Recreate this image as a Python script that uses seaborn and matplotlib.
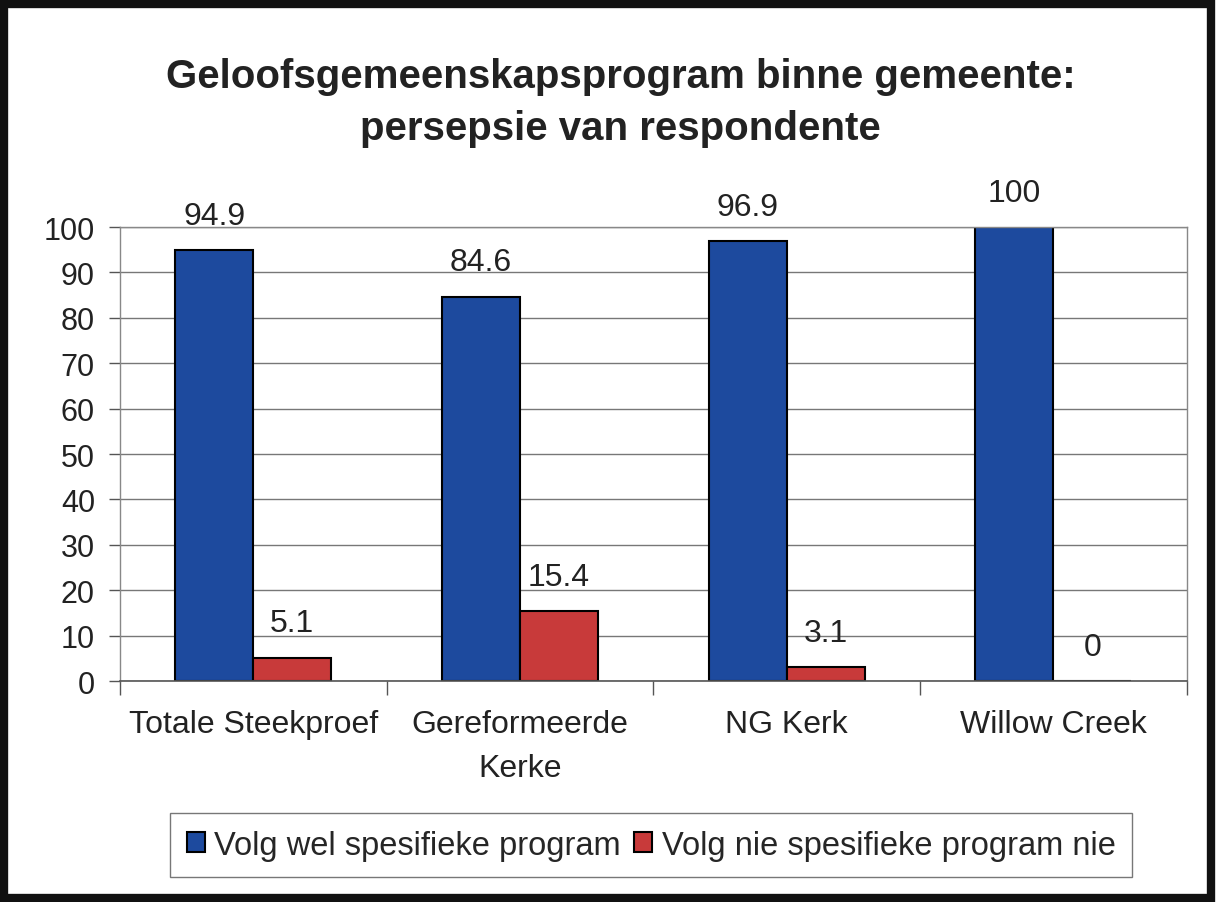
import matplotlib
matplotlib.use("Agg")
import matplotlib.pyplot as plt
import seaborn as sns
import pandas as pd
from matplotlib.patches import Rectangle

# chart data
groepe = ["Totale Steekproef", "Gereformeerde\nKerke", "NG Kerk", "Willow Creek"]
reekse = ["Volg wel spesifieke program", "Volg nie spesifieke program nie"]
volg_wel = [94.9, 84.6, 96.9, 100]
volg_nie = [5.1, 15.4, 3.1, 0]
y_ticks = [0, 10, 20, 30, 40, 50, 60, 70, 80, 90, 100]
titel = "Geloofsgemeenskapsprogram binne gemeente:\npersepsie van respondente"

kleure = ["#1d4a9e", "#c83a3a"]

df = pd.DataFrame({
    "groep": groepe * 2,
    "reeks": [reekse[0]] * len(groepe) + [reekse[1]] * len(groepe),
    "persent": volg_wel + volg_nie,
})

sns.set_theme(style="white")
plt.rcParams["font.family"] = ["Liberation Sans", "DejaVu Sans"]

fig = plt.figure(figsize=(12.17, 9.03), dpi=100)
ax = fig.add_axes([0.0986, 0.2447, 0.8764, 0.5028])

sns.barplot(data=df, x="groep", y="persent", hue="reeks", palette=kleure,
            width=0.585, edgecolor="black", linewidth=1.5, ax=ax,
            errorbar=None, saturation=1)

for cont, waardes in zip(ax.containers, [volg_wel, volg_nie]):
    ax.bar_label(cont, labels=[f"{v:g}" for v in waardes], padding=14,
                 fontsize=23, color="#222222")

ax.set_ylim(0, 100)
ax.set_xlim(-0.5, len(groepe) - 0.5)
ax.set_yticks(y_ticks)
ax.yaxis.grid(True, color="#777777", linewidth=1)
ax.set_axisbelow(True)
ax.set_xlabel("")
ax.set_ylabel("")

# category boundary ticks on x axis
ax.set_xticks([i - 0.5 for i in range(len(groepe) + 1)], minor=True)
ax.tick_params(axis="x", which="minor", length=10, width=1, color="#555555",
               direction="out", bottom=True)
ax.tick_params(axis="x", which="major", length=0, labelsize=23, pad=20,
               labelcolor="#222222")
ax.tick_params(axis="y", length=8, width=1, color="#555555", direction="out",
               left=True, labelsize=22, labelcolor="#222222", pad=10)
for lbl in ax.get_xticklabels():
    lbl.set_linespacing(1.6)

for side in ["left", "right", "top"]:
    ax.spines[side].set_color("#888888")
    ax.spines[side].set_linewidth(1)
ax.spines["bottom"].set_color("#555555")
ax.spines["bottom"].set_linewidth(1.2)

ax.get_legend().remove()
handles, labels = ax.get_legend_handles_labels()
fig.legend(handles, labels, loc="center", bbox_to_anchor=(0.535, 0.063),
           ncol=2, fontsize=23.5, frameon=True, fancybox=False,
           edgecolor="#555555", handlelength=0.55, handleheight=0.6,
           handletextpad=0.3, columnspacing=0.4, borderpad=0.5,
           borderaxespad=0)

fig.text(0.51, 0.886, titel, ha="center", va="center", fontsize=29,
         fontweight="bold", color="#222222", linespacing=1.45)

# dark frame round the whole chart
fig.patches.append(Rectangle((0.003, 0.004), 0.992, 0.99, transform=fig.transFigure,
                             fill=False, edgecolor="#111111", linewidth=6))

fig.savefig("out.png", dpi=100)
